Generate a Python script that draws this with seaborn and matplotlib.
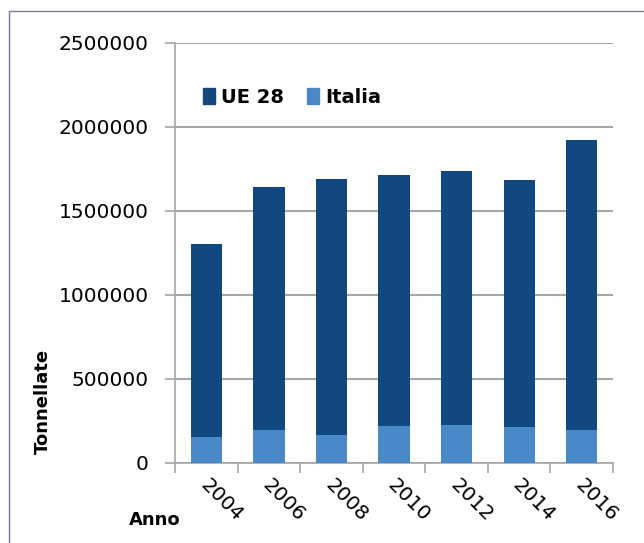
import pandas as pd
import matplotlib.pyplot as plt
import seaborn as sns
import matplotlib.transforms as mtransforms
from matplotlib.patches import Patch
from matplotlib.lines import Line2D

# dati
anni = ['2004', '2006', '2008', '2010', '2012', '2014', '2016']
ue28 = [1302000, 1642000, 1692000, 1714000, 1737000, 1683000, 1925000]
italia = [156000, 198000, 164000, 218000, 228000, 212000, 198000]

df = pd.DataFrame({'Anno': anni, 'UE 28': ue28, 'Italia': italia})

col_ue = '#10487f'
col_it = '#4a89c8'
grigio = '#a6a6a6'

sns.set_style('white')
plt.rcParams['font.family'] = ['DejaVu Sans']
plt.rcParams['text.color'] = 'black'
plt.rcParams['xtick.color'] = 'black'
plt.rcParams['ytick.color'] = 'black'

fig = plt.figure(figsize=(6.44, 5.43), dpi=100)
ax = fig.add_axes([175 / 644, 1 - 463 / 543, 438 / 644, 420 / 543])

sns.barplot(data=df, x='Anno', y='UE 28', color=col_ue, width=0.5,
            saturation=1, linewidth=0, edgecolor='none', ax=ax, zorder=3)
sns.barplot(data=df, x='Anno', y='Italia', color=col_it, width=0.5,
            saturation=1, linewidth=0, edgecolor='none', ax=ax, zorder=4)

ax.set_xlim(-0.5, len(anni) - 0.5)
ax.set_ylim(0, 2500000)
ax.set_yticks(range(0, 2500001, 500000))
ax.set_yticklabels([str(v) for v in range(0, 2500001, 500000)], fontsize=14.5)
ax.yaxis.grid(True, color=grigio, lw=1.5, zorder=0)
ax.set_axisbelow(True)

# tacche ai confini delle categorie
ax.set_xticks(range(len(anni)))
ax.set_xticks([i - 0.5 for i in range(len(anni) + 1)], minor=True)
ax.tick_params(axis='x', which='minor', bottom=True, length=7, width=1.2,
               color=grigio, direction='out')
ax.tick_params(axis='x', which='major', bottom=True, length=0, pad=9)
ax.tick_params(axis='y', left=True, length=7, width=1.2, color=grigio,
               direction='out', pad=12)
ax.set_xticklabels(anni, rotation=-45, ha='left', va='top', fontsize=14.5)
offset = mtransforms.ScaledTranslation(-10 / 100, 0, fig.dpi_scale_trans)
for lab in ax.get_xticklabels():
    lab.set_transform(lab.get_transform() + offset)

for s in ['top', 'right']:
    ax.spines[s].set_visible(False)
for s in ['left', 'bottom']:
    ax.spines[s].set_color(grigio)
    ax.spines[s].set_linewidth(1.2)

ax.set_xlabel('')
ax.set_ylabel('')
fig.text(43 / 644, 1 - 401 / 543, 'Tonnellate', rotation=90, ha='center', va='center',
         fontsize=13, fontweight='bold')
fig.text(155 / 644, 1 - 520 / 543, 'Anno', ha='center', va='center',
         fontsize=13, fontweight='bold')

handles = [Patch(color=col_ue, label='UE 28'), Patch(color=col_it, label='Italia')]
ax.legend(handles=handles, loc='upper left', bbox_to_anchor=(0.025, 0.935), ncol=2,
          frameon=False, handlelength=0.6, handleheight=0.9, handletextpad=0.3,
          columnspacing=1.2, prop={'size': 14, 'weight': 'bold'})

# cornice
fig.add_artist(Line2D([9 / 644, 1], [1 - 11 / 543, 1 - 11 / 543], color='#85769c', lw=1))
fig.add_artist(Line2D([9 / 644, 9 / 644], [0, 1 - 11 / 543], color='#85769c', lw=1))

fig.savefig('out.png', dpi=100)
